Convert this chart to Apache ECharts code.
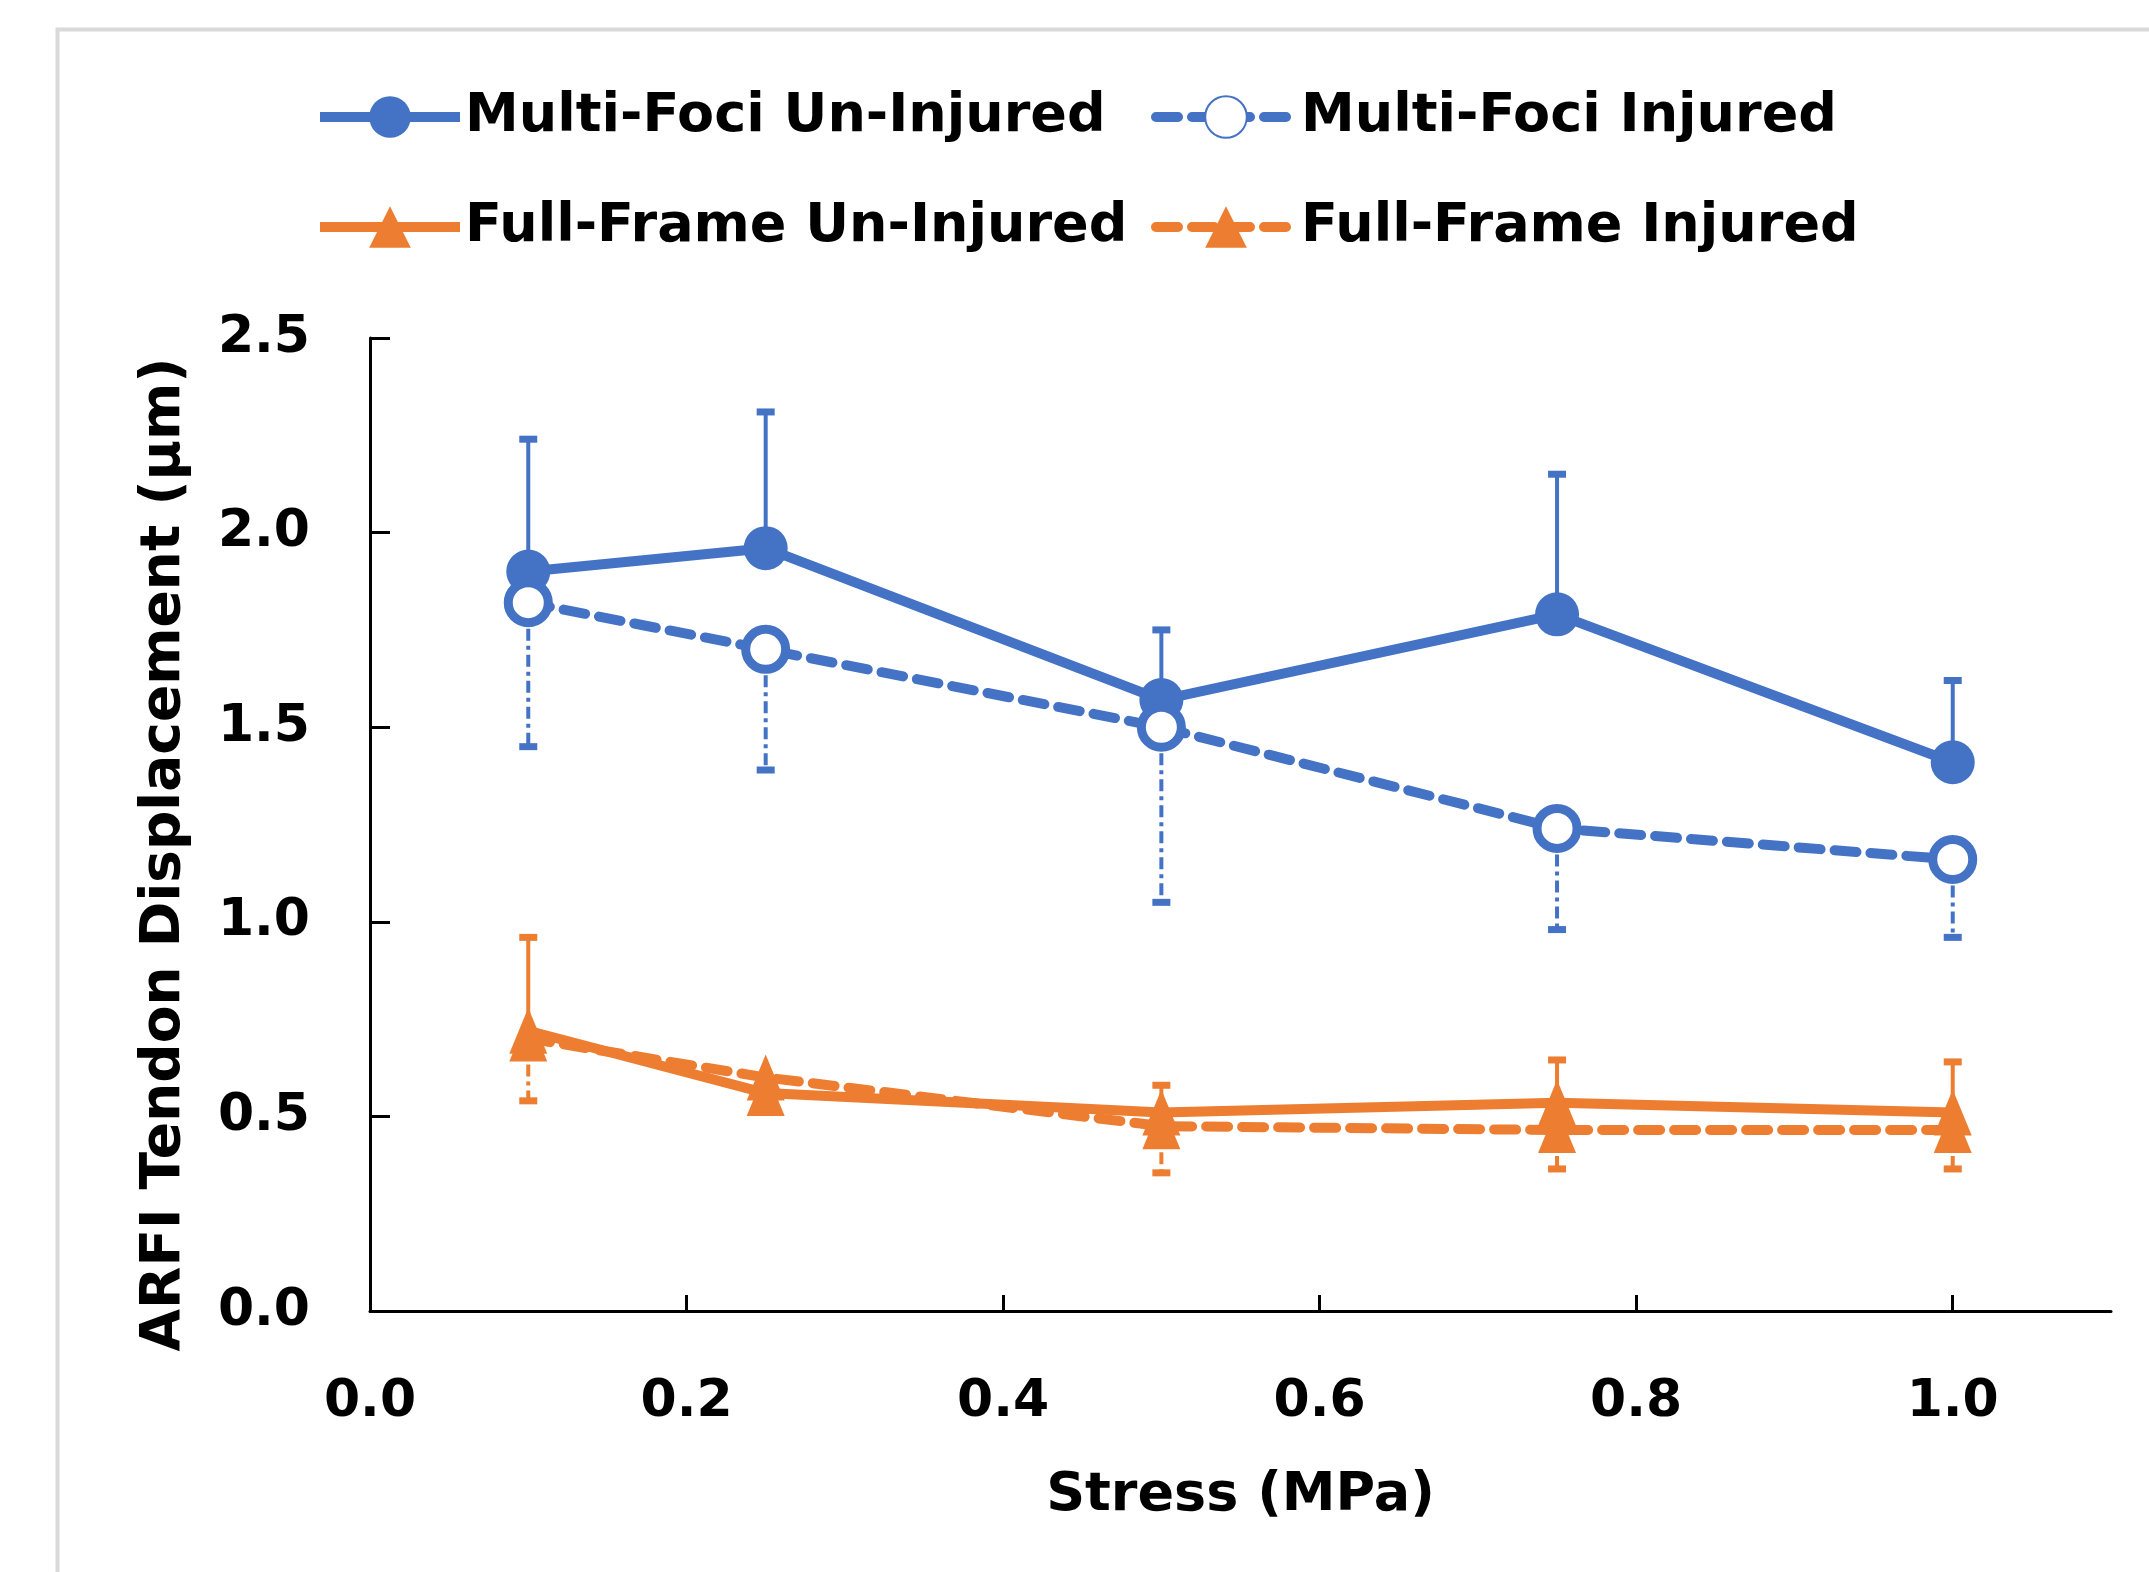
<!DOCTYPE html>
<html>
<head>
<meta charset="utf-8">
<script src="https://cdn.jsdelivr.net/npm/echarts@6/dist/echarts.min.js"></script>
<style>
html,body{margin:0;padding:0;background:#fff;}
#chart{width:2149px;height:1572px;}
</style>
</head>
<body>
<div id="chart"></div>
<script>
const stress = [0.1, 0.25, 0.5, 0.75, 1.0];
const xTicks = [0, 0.2, 0.4, 0.6, 0.8, 1.0];
const mfUninjured = [1.90, 1.96, 1.57, 1.79, 1.41];
const mfUninjuredErr = [0.34, 0.35, 0.18, 0.36, 0.21];
const mfInjured = [1.82, 1.70, 1.50, 1.24, 1.16];
const mfInjuredErr = [0.37, 0.31, 0.45, 0.26, 0.20];
const ffUninjured = [0.72, 0.56, 0.51, 0.535, 0.51];
const ffUninjuredErr = [0.24, 0.03, 0.07, 0.11, 0.13];
const ffInjured = [0.70, 0.60, 0.475, 0.465, 0.465];
const ffInjuredErr = [0.16, 0.05, 0.12, 0.10, 0.10];

const BLUE = '#4472C4', ORANGE = '#ED7D31';
const FONT = 'DejaVu Sans';
const names = ['Multi-Foci Un-Injured', 'Multi-Foci Injured', 'Full-Frame Un-Injured', 'Full-Frame Injured'];

function pts(vals) { return stress.map((x, i) => [x, vals[i]]); }
function errPts(vals, errs) { return stress.map((x, i) => [x, vals[i], errs[i]]); }

function errRender(dir, dashed, color) {
  return function (params, api) {
    const x = api.value(0), y = api.value(1), e = api.value(2);
    const p0 = api.coord([x, y]);
    const p1 = api.coord([x, y + dir * e]);
    const cap = 9;
    return {
      type: 'group',
      children: [
        { type: 'line', shape: { x1: p0[0], y1: p0[1], x2: p1[0], y2: p1[1] },
          style: { stroke: color, lineWidth: 4, lineDash: dashed ? [12, 5, 4, 5] : null } },
        { type: 'line', shape: { x1: p1[0] - cap, y1: p1[1], x2: p1[0] + cap, y2: p1[1] },
          style: { stroke: color, lineWidth: 7 } }
      ]
    };
  };
}

function errSeries(vals, errs, dir, dashed, color, z) {
  return {
    type: 'custom', silent: true, z: z,
    data: errPts(vals, errs),
    encode: { x: 0, y: 1 },
    renderItem: errRender(dir, dashed, color)
  };
}

const legendText = { fontFamily: FONT, fontWeight: 'bold', fontSize: 54, color: '#000' };
function legendFor(name, left, top) {
  return { data: [name], left: left, top: top, itemWidth: 140, itemHeight: 52,
    selectedMode: false, textStyle: legendText, padding: 0,
    lineStyle: { width: 10 } };
}

const chart = echarts.init(document.getElementById('chart'));
chart.setOption({
  animation: false,
  backgroundColor: '#fff',
  graphic: [{
    type: 'rect', left: 55, top: 27, silent: true,
    shape: { width: 2200, height: 1700 },
    style: { fill: 'none', stroke: '#d9d9d9', lineWidth: 4 }
  }],
  legend: [
    legendFor(names[0], 315, 90),
    legendFor(names[1], 1151, 90),
    legendFor(names[2], 315, 200),
    legendFor(names[3], 1151, 200)
  ],
  grid: { left: 370, right: 38, top: 338, bottom: 261, containLabel: false },
  xAxis: {
    type: 'value', min: 0, max: 1.1,
    name: 'Stress (MPa)', nameLocation: 'middle', nameGap: 158,
    nameTextStyle: { fontFamily: FONT, fontWeight: 'bold', fontSize: 54, color: '#000' },
    axisLine: { show: true, lineStyle: { color: '#000', width: 3 } },
    axisTick: { show: true, inside: true, length: 16, lineStyle: { color: '#000', width: 3 }, customValues: xTicks },
    axisLabel: { customValues: xTicks, margin: 65, fontFamily: FONT, fontWeight: 'bold', fontSize: 52, color: '#000',
      formatter: v => v.toFixed(1) },
    splitLine: { show: false }
  },
  yAxis: {
    type: 'value', min: 0, max: 2.5, interval: 0.5,
    name: 'ARFI Tendon Displacement (µm)', nameLocation: 'middle', nameGap: 178, nameRotate: 90,
    nameTextStyle: { fontFamily: FONT, fontWeight: 'bold', fontSize: 55, color: '#000', padding: [0, 60, 0, 0] },
    axisLine: { show: true, lineStyle: { color: '#000', width: 3 } },
    axisTick: { show: true, inside: true, length: 20, lineStyle: { color: '#000', width: 3 } },
    axisLabel: { margin: 60, fontFamily: FONT, fontWeight: 'bold', fontSize: 52, color: '#000',
      formatter: v => v.toFixed(1) },
    splitLine: { show: false }
  },
  series: [
    errSeries(mfUninjured, mfUninjuredErr, 1, false, BLUE, 2),
    {
      name: names[0], type: 'line', data: pts(mfUninjured), z: 3,
      symbol: 'circle', symbolSize: 44,
      lineStyle: { color: BLUE, width: 10 },
      itemStyle: { color: BLUE }
    },
    errSeries(mfInjured, mfInjuredErr, -1, true, BLUE, 4),
    {
      name: names[1], type: 'line', data: pts(mfInjured), z: 5,
      symbol: 'circle', symbolSize: 40,
      lineStyle: { color: BLUE, width: 10, type: [22, 14], cap: 'round' },
      itemStyle: { color: '#fff', borderColor: BLUE, borderWidth: 9 }
    },
    errSeries(ffUninjured, ffUninjuredErr, 1, false, ORANGE, 6),
    {
      name: names[2], type: 'line', data: pts(ffUninjured), z: 7,
      symbol: 'triangle', symbolSize: [38, 46],
      lineStyle: { color: ORANGE, width: 10 },
      itemStyle: { color: ORANGE }
    },
    errSeries(ffInjured, ffInjuredErr, -1, true, ORANGE, 8),
    {
      name: names[3], type: 'line', data: pts(ffInjured), z: 9,
      symbol: 'triangle', symbolSize: [38, 46],
      lineStyle: { color: ORANGE, width: 10, type: [22, 14], cap: 'round' },
      itemStyle: { color: ORANGE }
    }
  ]
});
</script>
</body>
</html>
